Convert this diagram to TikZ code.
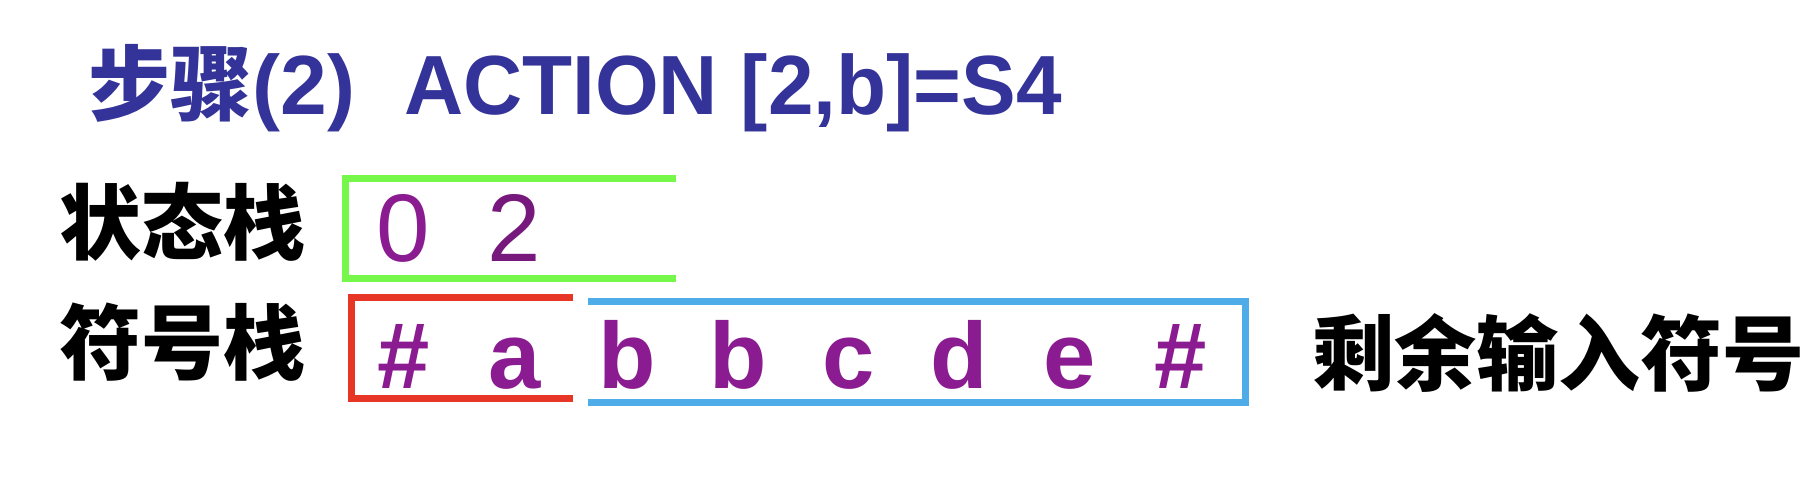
\documentclass[tikz,border=0pt]{standalone}
\usepackage{fontspec}
\setmainfont{Liberation Sans}
\newfontfamily\cjk{Noto Sans CJK SC}
\definecolor{titleblue}{RGB}{51,51,153}
\definecolor{sympurple}{RGB}{139,27,145}
\definecolor{darkpurple}{RGB}{118,24,124}
\definecolor{brgreen}{RGB}{118,248,75}
\definecolor{brred}{RGB}{232,54,38}
\definecolor{brblue}{RGB}{78,173,232}
\tikzset{
  title/.style={inner sep=0pt, text=titleblue, font=\fontsize{84}{84}\selectfont\bfseries},
  titlecjk/.style={inner sep=0pt, text=titleblue, font=\fontsize{82}{82}\selectfont\bfseries\cjk},
  label/.style={inner sep=0pt, text=black, font=\fontsize{82}{82}\selectfont\bfseries\cjk},
  sym/.style={inner sep=0pt, anchor=base, text=sympurple, font=\fontsize{94}{94}\selectfont\bfseries},
  digit/.style={inner sep=0pt, anchor=base, text=sympurple, font=\fontsize{96}{96}\selectfont},
  bracket/.style={line width=7pt, line cap=butt, line join=miter}
}
\begin{document}
\begin{tikzpicture}[x=1pt,y=-1pt]
\useasboundingbox (0,0) rectangle (1810,494);
% title
\node[titlecjk, anchor=base west] (t1) at (88,115) {步骤};
\node[title, anchor=base west] (t2) at (t1.base east) {(2)};
\node[title, anchor=base west, xscale=0.975, transform shape] (t3) at (404,115) {ACTION [2,b]=S4};
% row labels
\node[label] (lstate) at (182,222) {状态栈};
\node[label] (lsym) at (182,342) {符号栈};
\node[label] (lrest) at (1558,353) {剩余输入符号};
% brackets
\coordinate (gtr) at (676,179);
\coordinate (gbr) at (676,279);
\draw[bracket, brgreen] (gtr) -- (345,179) -- (345,279) -- (gbr);
\coordinate (rtr) at (573,298);
\coordinate (rbr) at (573,398);
\draw[bracket, brred] (rtr) -- (351,298) -- (351,398) -- (rbr);
\coordinate (btl) at (588,302);
\coordinate (bbl) at (588,402);
\draw[bracket, brblue] (btl) -- (1245,302) -- (1245,402) -- (bbl);
% state stack
\node[digit] (s0) at (403,262) {0};
\node[digit, text=darkpurple] (s1) at (514,262) {2};
% symbol stack
\node[sym] (c0) at (404,388) {\#};
\node[sym] (c1) at (515,388) {a};
% remaining input
\node[sym] (c2) at (627,388) {b};
\node[sym] (c3) at (738,388) {b};
\node[sym] (c4) at (849,388) {c};
\node[sym] (c5) at (959,388) {d};
\node[sym] (c6) at (1070,388) {e};
\node[sym] (c7) at (1181,388) {\#};
\end{tikzpicture}
\end{document}
